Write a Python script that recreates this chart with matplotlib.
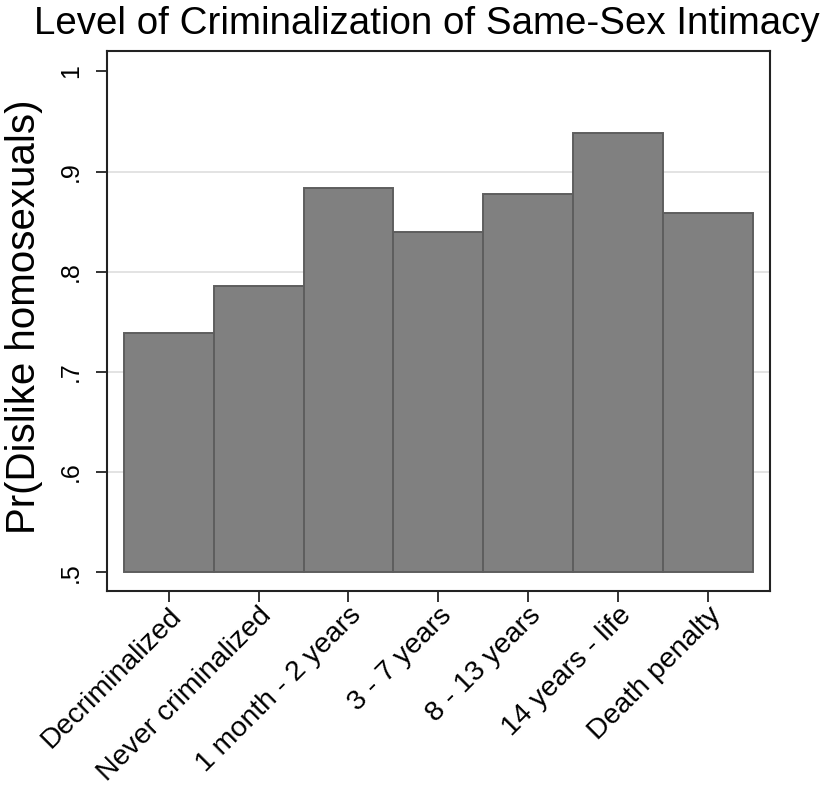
import matplotlib
matplotlib.use("Agg")
import matplotlib.pyplot as plt

# Predicted probabilities by level of criminalization
categories = ["Decriminalized", "Never criminalized", "1 month - 2 years",
              "3 - 7 years", "8 - 13 years", "14 years - life", "Death penalty"]
values = [0.739, 0.786, 0.884, 0.840, 0.878, 0.938, 0.859]
y_ticks = [0.5, 0.6, 0.7, 0.8, 0.9, 1.0]
y_tick_labels = [".5", ".6", ".7", ".8", ".9", "1"]
base = 0.5

plt.rcParams["font.family"] = ["Liberation Sans", "DejaVu Sans"]

W, H = 831, 787
fig = plt.figure(figsize=(W / 100, H / 100), dpi=100)
fig.patch.set_facecolor("white")

left, right, bottom, top = 106.7, 770.0, 590.7, 50.7
ax = fig.add_axes([left / W, 1 - bottom / H, (right - left) / W, (bottom - top) / H])

x = list(range(len(categories)))
heights = [v - base for v in values]
ax.bar(x, heights, width=1.0, bottom=base, color="#808080",
       edgecolor="#5e5e5e", linewidth=1.4, zorder=3)

ax.set_xlim(-0.69, len(categories) - 1 + 0.69)
ax.set_ylim(0.4816, 1.0206)

# Horizontal grid at interior ticks
for t in y_ticks[1:-1]:
    ax.axhline(t, color="#e3e3e3", linewidth=1.4, zorder=1)

ax.set_yticks(y_ticks)
ax.set_yticklabels(y_tick_labels, rotation=90, va="center", fontsize=18)
ax.set_xticks(x)
ax.set_xticklabels(categories, rotation=45, ha="right", va="top",
                   rotation_mode="anchor", fontsize=20.5)

ax.tick_params(axis="both", direction="out", length=8, width=1.4, color="#333333")
ax.tick_params(axis="y", pad=9)
ax.tick_params(axis="x", pad=0.5)
for s in ax.spines.values():
    s.set_color("#222222")
    s.set_linewidth(1.5)

ax.set_ylabel("Pr(Dislike homosexuals)", fontsize=29)
ax.yaxis.set_label_coords(-0.096, 0.508)

fig.text(426.5 / W, 1 - 34 / H, "Level of Criminalization of Same-Sex Intimacy",
         ha="center", va="baseline", fontsize=27.7)

fig.savefig("out.png", dpi=100, facecolor="white")
